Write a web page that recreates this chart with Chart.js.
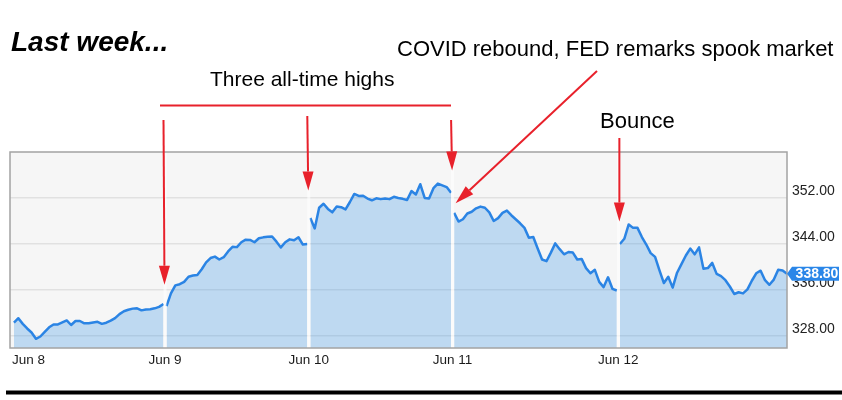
<!DOCTYPE html>
<html>
<head>
<meta charset="utf-8">
<title>Last week</title>
<script src="https://cdn.jsdelivr.net/npm/chart.js@4.4.1/dist/chart.umd.min.js"></script>
<style>
  html, body { margin: 0; padding: 0; background: #fff; }
  #chart { display: block; }
</style>
</head>
<body>
<canvas id="chart" width="842" height="400"></canvas>
<script>
// === Data (intraday prices, one array per session) ===
const dayLabels = ['Jun 8', 'Jun 9', 'Jun 10', 'Jun 11', 'Jun 12'];

const jun8 = [330.31, 331.08, 330.1, 329.3, 328.6, 327.5, 327.9, 328.7, 329.5, 330.0,
  330.0, 330.35, 330.7, 329.9, 330.6, 330.6, 330.2, 330.2, 330.35, 330.45,
  330.1, 330.3, 330.65, 331.1, 331.8, 332.3, 332.55, 332.75, 332.8, 332.45,
  332.6, 332.64, 332.8, 333.05, 333.57];
const jun9 = [333.2, 335.4, 336.8, 337.0, 337.4, 338.3, 338.5, 338.6, 339.6, 340.8,
  341.55, 341.8, 341.3, 341.7, 342.7, 343.5, 343.45, 344.3, 344.75, 344.7,
  344.3, 345.0, 345.15, 345.25, 345.3, 344.4, 343.4, 344.3, 344.8, 344.65,
  345.17, 343.9, 344.0];
const jun10 = [348.5, 346.7, 350.3, 351.0, 350.1, 349.5, 350.5, 350.4, 350.0, 351.3,
  352.7, 352.35, 352.4, 351.9, 351.6, 351.95, 351.8, 351.9, 351.8, 352.2,
  352.0, 351.85, 351.65, 353.2, 352.6, 354.4, 352.0, 351.9, 353.7, 354.5,
  354.2, 353.9, 352.9];
const jun11 = [349.4, 347.9, 348.3, 349.3, 349.6, 350.2, 350.5, 350.3, 349.5, 348.0,
  348.5, 349.4, 349.8, 349.0, 348.3, 347.6, 346.8, 345.1, 345.2, 343.2,
  341.3, 341.0, 342.5, 344.1, 343.1, 342.2, 342.6, 342.5, 341.3, 341.4,
  339.8, 338.9, 339.5, 337.4, 336.5, 338.2, 336.2, 335.9];
const jun12 = [344.0, 344.9, 347.4, 346.8, 346.8, 345.2, 343.9, 342.4, 341.75, 339.4,
  337.2, 338.3, 336.4, 339.0, 340.5, 342.0, 343.2, 342.2, 343.4, 339.7,
  339.8, 340.7, 338.8, 338.4, 337.7, 336.6, 335.3, 335.6, 335.4, 336.1,
  337.6, 338.9, 339.35, 337.7, 336.9, 337.8, 339.5, 339.4, 338.8];

const yTicks = [328, 336, 344, 352];
const yMin = 325.9;
const yMax = 360;

// where the annotation arrows point (price level at the tip)
const highTips = [336.9, 353.3, 356.8];   // Jun 9, Jun 10, Jun 11 opens
const spookTip = 351.1;                    // just after the Jun 11 open
const bounceTip = 347.9;                   // Jun 12 open

// === Build the point list: one slot per sample, a short null gap between sessions ===
const GAP = 0.7;
const days = [jun8, jun9, jun10, jun11, jun12];
const points = [];
const gapCenters = [];
let cursor = 0;
days.forEach((vals, d) => {
  if (d > 0) {
    gapCenters.push(cursor + GAP / 2);
    points.push({ x: cursor + GAP / 2, y: null });
    cursor += GAP;
  }
  vals.forEach((v, i) => points.push({ x: cursor + i, y: v }));
  cursor += vals.length - 1;
});
const xMax = cursor;
const lastPrice = jun12[jun12.length - 1];

const FONT = '"Liberation Sans", Arial, Helvetica, sans-serif';
const RED = '#e8212b';

function arrow(ctx, x1, y1, x2, y2) {
  const a = Math.atan2(y2 - y1, x2 - x1);
  const len = 19, w = 5.5;
  const bx = x2 - len * Math.cos(a), by = y2 - len * Math.sin(a);
  ctx.beginPath();
  ctx.moveTo(x1, y1);
  ctx.lineTo(bx, by);
  ctx.stroke();
  ctx.beginPath();
  ctx.moveTo(x2, y2);
  ctx.lineTo(bx + w * Math.sin(a), by - w * Math.cos(a));
  ctx.lineTo(bx - w * Math.sin(a), by + w * Math.cos(a));
  ctx.closePath();
  ctx.fill();
}

// plot background
const backdrop = {
  id: 'backdrop',
  beforeDraw(chart) {
    const { ctx, chartArea: a } = chart;
    ctx.save();
    ctx.fillStyle = '#f6f6f6';
    ctx.fillRect(a.left, a.top, a.width, a.height);
    ctx.restore();
  }
};

// light stripes at session breaks
const sessionBreaks = {
  id: 'sessionBreaks',
  afterDatasetsDraw(chart) {
    const { ctx, chartArea: a, scales } = chart;
    ctx.save();
    ctx.strokeStyle = 'rgba(255,255,255,0.6)';
    ctx.lineWidth = 3;
    gapCenters.forEach(g => {
      const px = scales.x.getPixelForValue(g);
      ctx.beginPath();
      ctx.moveTo(px, a.top);
      ctx.lineTo(px, a.bottom);
      ctx.stroke();
    });
    ctx.restore();
  }
};

// frame, day labels, last price tag, notes
const overlay = {
  id: 'overlay',
  afterDraw(chart) {
    const { ctx, chartArea: a, scales } = chart;
    const xs = scales.x, ys = scales.y;
    ctx.save();

    // frame
    ctx.strokeStyle = '#a3a3a3';
    ctx.lineWidth = 1.5;
    ctx.strokeRect(a.left, a.top, a.width, a.height);

    // day labels
    ctx.fillStyle = '#1a1a1a';
    ctx.font = '13.5px ' + FONT;
    ctx.textBaseline = 'middle';
    ctx.textAlign = 'left';
    ctx.fillText(dayLabels[0], a.left + 2, a.bottom + 12.5);
    ctx.textAlign = 'center';
    gapCenters.forEach((g, i) => {
      ctx.fillText(dayLabels[i + 1], xs.getPixelForValue(g), a.bottom + 12.5);
    });

    // last price tag
    const ty = ys.getPixelForValue(lastPrice);
    ctx.fillStyle = '#2a86e8';
    ctx.beginPath();
    ctx.moveTo(a.right, ty);
    ctx.lineTo(a.right + 5, ty - 7);
    ctx.lineTo(a.right + 52, ty - 7);
    ctx.lineTo(a.right + 52, ty + 7);
    ctx.lineTo(a.right + 5, ty + 7);
    ctx.closePath();
    ctx.fill();
    ctx.fillStyle = '#fff';
    ctx.font = 'bold 14px ' + FONT;
    ctx.fillText(lastPrice.toFixed(2), a.right + 30, ty + 0.5);

    // title and notes
    ctx.fillStyle = '#000';
    ctx.textAlign = 'left';
    ctx.textBaseline = 'alphabetic';
    ctx.font = 'italic bold 28px ' + FONT;
    ctx.fillText('Last week...', 11, 51);
    ctx.font = '22px ' + FONT;
    ctx.fillText('COVID rebound, FED remarks spook market', 397, 56);
    ctx.fillText('Bounce', 600, 128);
    ctx.font = '21px ' + FONT;
    ctx.fillText('Three all-time highs', 210, 86);

    // red bracket and arrows
    ctx.strokeStyle = RED;
    ctx.fillStyle = RED;
    ctx.lineWidth = 2;
    ctx.beginPath();
    ctx.moveTo(160, 105.5);
    ctx.lineTo(451, 105.5);
    ctx.stroke();
    const tails = [120, 116, 120];
    highTips.forEach((v, i) => {
      const px = xs.getPixelForValue(gapCenters[i]);
      arrow(ctx, px - 1.5, tails[i], px - 0.5, ys.getPixelForValue(v));
    });
    arrow(ctx, 597, 71, xs.getPixelForValue(gapCenters[2]) + 3, ys.getPixelForValue(spookTip));
    const bx = xs.getPixelForValue(gapCenters[3]);
    arrow(ctx, bx + 1, 138, bx + 1, ys.getPixelForValue(bounceTip));

    // bottom rule
    ctx.fillStyle = '#000';
    ctx.fillRect(6, 390.5, 836, 4);
    ctx.restore();
  }
};

new Chart(document.getElementById('chart'), {
  type: 'line',
  data: {
    datasets: [{
      data: points,
      borderColor: '#2b84e4',
      borderWidth: 2.5,
      backgroundColor: 'rgba(41,140,230,0.27)',
      fill: 'start',
      pointRadius: 0,
      tension: 0,
      spanGaps: false,
      borderJoinStyle: 'round'
    }]
  },
  options: {
    responsive: false,
    animation: false,
    layout: { padding: { left: 10, top: 152, right: 0, bottom: 52 } },
    plugins: { legend: { display: false }, tooltip: { enabled: false } },
    scales: {
      x: { type: 'linear', min: -0.9, max: xMax, display: false },
      y: {
        position: 'right',
        min: yMin,
        max: yMax,
        afterBuildTicks: scale => { scale.ticks = yTicks.map(v => ({ value: v })); },
        afterFit: scale => { scale.width = 55; },
        border: { display: false },
        grid: { color: '#e1e1e1', lineWidth: 1.5, drawTicks: false },
        ticks: {
          padding: 5,
          labelOffset: -6.5,
          color: '#222',
          font: { family: FONT, size: 14 },
          callback: v => Number(v).toFixed(2)
        }
      }
    }
  },
  plugins: [backdrop, sessionBreaks, overlay]
});
</script>
</body>
</html>
